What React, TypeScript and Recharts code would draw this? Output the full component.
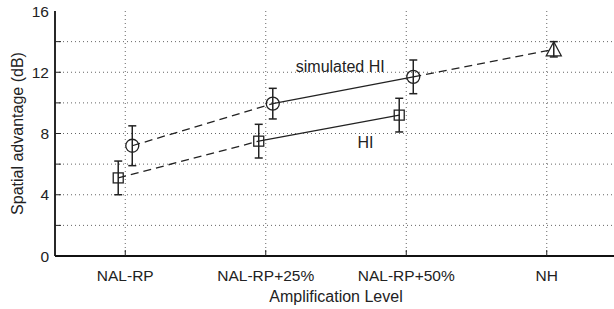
import React from 'react';
import { ComposedChart, Scatter, XAxis, YAxis, CartesianGrid, ErrorBar, ReferenceDot } from 'recharts';

// ---- data ----
const categories = ['NAL-RP', 'NAL-RP+25%', 'NAL-RP+50%', 'NH'];
const hiValues = [5.1, 7.5, 9.2];
const hiErrors = [1.1, 1.1, 1.1];
const simValues = [7.2, 9.95, 11.7];
const simErrors = [1.3, 1.0, 1.1];
const nhValues = [13.5];
const nhErrors = [0.5];
const yTicks = [0, 2, 4, 6, 8, 10, 12, 14, 16];
const yLabelTicks = [0, 4, 8, 12, 16];
const gridY = [2, 4, 6, 8, 10, 12, 14];
const annotationTexts = ['simulated HI', 'HI'];
const annotationX = [2.53, 2.71];
const annotationY = [12.37, 7.41];

// ---- layout/style ----
const INK = '#222';
const OFFSET = 0.05; // horizontal marker offset within a category
const TICK_LEN = 6;
const FONT = '"Liberation Sans", Arial, Helvetica, sans-serif';

const catX = categories.map((_, i) => i + 1);
const hiPts = hiValues.map((v, i) => ({ x: catX[i] - OFFSET, y: v, err: hiErrors[i] }));
const simPts = simValues.map((v, i) => ({ x: catX[i] + OFFSET, y: v, err: simErrors[i] }));
const nhPts = nhValues.map((v, i) => ({ x: catX[3] + OFFSET, y: v, err: nhErrors[i] }));

const segHiDash = [hiPts[0], hiPts[1]];
const segHiSolid = [hiPts[1], hiPts[2]];
const segSimDash = [simPts[0], simPts[1]];
const segSimSolid = [simPts[1], simPts[2]];
const segSimNH = [simPts[2], nhPts[0]];

const Square = (p: any) => (
  <rect x={p.cx - 5} y={p.cy - 5} width={10} height={10} fill="none" stroke={INK} strokeWidth={1.3} />
);
const Circ = (p: any) => <circle cx={p.cx} cy={p.cy} r={6.5} fill="none" stroke={INK} strokeWidth={1.3} />;
const Tri = (p: any) => (
  <polygon
    points={`${p.cx},${p.cy - 7.5} ${p.cx - 7.5},${p.cy + 6.5} ${p.cx + 7.5},${p.cy + 6.5}`}
    fill="none"
    stroke={INK}
    strokeWidth={1.3}
  />
);
const NoShape = () => <g />;

const LEFT_GAP = 6;
const LeftTick = (props: any) => {
  const { x, y, payload } = props;
  const ax = x + LEFT_GAP;
  const v = payload.value;
  return (
    <g>
      {v > 0 && v < 16 && <line x1={ax} x2={ax + TICK_LEN} y1={y} y2={y} stroke={INK} strokeWidth={1} />}
      {yLabelTicks.includes(v) && (
        <text x={x} y={y} dy="0.36em" textAnchor="end" fontSize={15.5} fill={INK} fontFamily={FONT}>
          {v}
        </text>
      )}
    </g>
  );
};

const BOTTOM_GAP = 14;
const BottomTick = (props: any) => {
  const { x, y, payload } = props;
  const ay = y - BOTTOM_GAP;
  const idx = catX.indexOf(payload.value);
  return (
    <g>
      <line x1={x} x2={x} y1={ay} y2={ay - TICK_LEN} stroke={INK} strokeWidth={1} />
      <text x={x} y={y} dy="0.71em" textAnchor="middle" fontSize={15.5} fill={INK} fontFamily={FONT}>
        {idx >= 0 ? categories[idx] : ''}
      </text>
    </g>
  );
};

const TopTick = (props: any) => {
  const { x, y } = props;
  return <line x1={x} x2={x} y1={y} y2={y + TICK_LEN} stroke={INK} strokeWidth={1} />;
};

const RightTick = (props: any) => {
  const { x, y, payload } = props;
  if (payload.value === 0 || payload.value === 16) return <g />;
  return <line x1={x} x2={x - TICK_LEN} y1={y} y2={y} stroke={INK} strokeWidth={1} />;
};

const axisLine = { stroke: '#111', strokeWidth: 1.8 };

export default function App() {
  return (
    <div style={{ position: 'fixed', left: 0, top: 0, width: 614, height: 309, overflow: 'hidden', background: '#fff' }}>
      <ComposedChart width={640} height={309} margin={{ top: 11, right: 23, bottom: 0, left: 0 }}>
        <CartesianGrid
          stroke="#666"
          strokeDasharray="1 3"
          horizontalValues={gridY}
          verticalValues={catX}
        />
        <XAxis
          dataKey="x"
          type="number"
          domain={[0.5, 4.5]}
          ticks={catX}
          interval={0}
          allowDataOverflow
          height={53}
          tickSize={0}
          tickMargin={BOTTOM_GAP}
          tickLine={false}
          axisLine={axisLine}
          tick={<BottomTick />}
          label={{ value: 'Amplification Level', position: 'insideBottom', offset: 7, fill: INK, fontSize: 16, fontFamily: FONT }}
        />
        <XAxis
          xAxisId="top"
          orientation="top"
          type="number"
          domain={[0.5, 4.5]}
          ticks={catX}
          interval={0}
          allowDataOverflow
          height={0}
          tickSize={0}
          tickMargin={0}
          tickLine={false}
          axisLine={axisLine}
          tick={<TopTick />}
        />
        <YAxis
          dataKey="y"
          type="number"
          domain={[0, 16]}
          ticks={yTicks}
          interval={0}
          allowDataOverflow
          width={55}
          tickSize={0}
          tickMargin={LEFT_GAP}
          tickLine={false}
          axisLine={axisLine}
          tick={<LeftTick />}
          label={{
            value: 'Spatial advantage (dB)',
            angle: -90,
            position: 'insideLeft',
            offset: 17,
            fill: INK,
            fontSize: 16,
            fontFamily: FONT,
            style: { textAnchor: 'middle' },
          }}
        />
        <YAxis
          yAxisId="right"
          orientation="right"
          type="number"
          domain={[0, 16]}
          ticks={yTicks}
          interval={0}
          allowDataOverflow
          width={0}
          tickSize={0}
          tickMargin={0}
          tickLine={false}
          axisLine={axisLine}
          tick={<RightTick />}
        />

        <Scatter data={segHiDash} shape={<NoShape />} line={{ stroke: INK, strokeWidth: 1.3, strokeDasharray: '8 5' }} isAnimationActive={false} />
        <Scatter data={segHiSolid} shape={<NoShape />} line={{ stroke: INK, strokeWidth: 1.3 }} isAnimationActive={false} />
        <Scatter data={segSimDash} shape={<NoShape />} line={{ stroke: INK, strokeWidth: 1.3, strokeDasharray: '8 5' }} isAnimationActive={false} />
        <Scatter data={segSimSolid} shape={<NoShape />} line={{ stroke: INK, strokeWidth: 1.3 }} isAnimationActive={false} />
        <Scatter data={segSimNH} shape={<NoShape />} line={{ stroke: INK, strokeWidth: 1.3, strokeDasharray: '8 5' }} isAnimationActive={false} />

        <Scatter data={hiPts} shape={<Square />} isAnimationActive={false}>
          <ErrorBar dataKey="err" direction="y" width={4} stroke={INK} strokeWidth={1.5} />
        </Scatter>
        <Scatter data={simPts} shape={<Circ />} isAnimationActive={false}>
          <ErrorBar dataKey="err" direction="y" width={4} stroke={INK} strokeWidth={1.5} />
        </Scatter>
        <Scatter data={nhPts} shape={<Tri />} isAnimationActive={false}>
          <ErrorBar dataKey="err" direction="y" width={4} stroke={INK} strokeWidth={1.5} />
        </Scatter>

        {annotationTexts.map((t, i) => (
          <ReferenceDot
            key={t}
            x={annotationX[i]}
            y={annotationY[i]}
            r={0}
            stroke="none"
            fill="none"
            label={{ value: t, position: 'center', fill: INK, fontSize: 16, fontFamily: FONT }}
          />
        ))}
      </ComposedChart>
    </div>
  );
}
